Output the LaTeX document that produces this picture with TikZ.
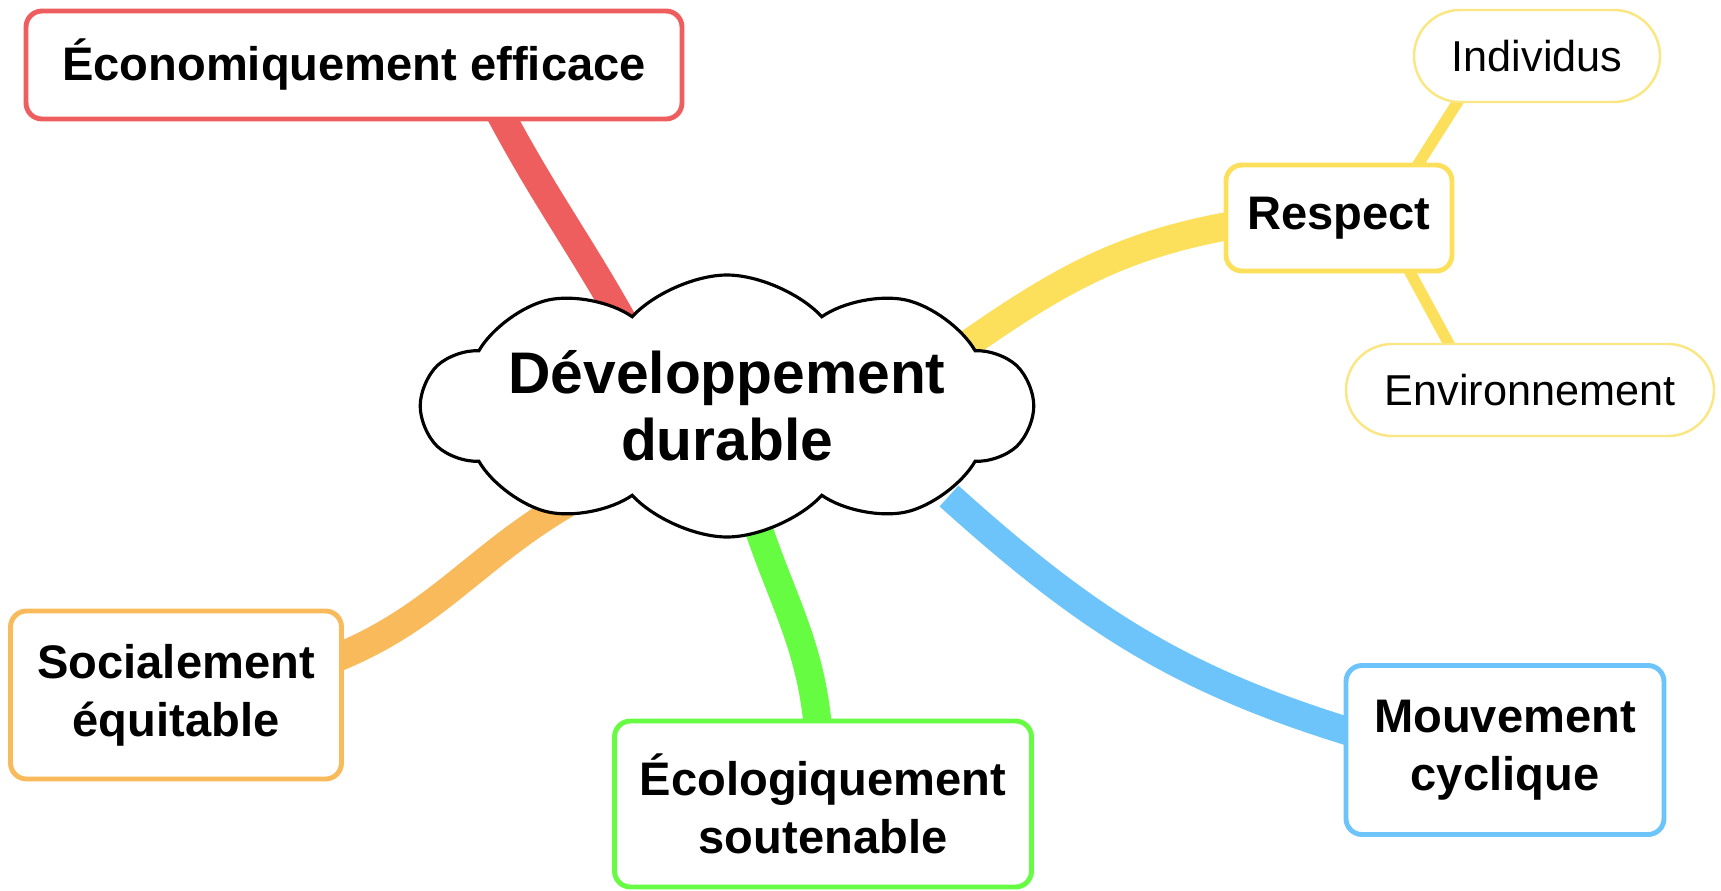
\documentclass[tikz,border=0pt]{standalone}
\usepackage{fontspec}
\setmainfont{Liberation Sans}
\usetikzlibrary{shapes.symbols, backgrounds, calc}

\definecolor{redbranch}{RGB}{238,94,94}
\definecolor{yellowbranch}{RGB}{252,224,92}
\definecolor{orangebranch}{RGB}{248,186,90}
\definecolor{greenbranch}{RGB}{102,252,66}
\definecolor{bluebranch}{RGB}{108,196,250}
\definecolor{leafyellow}{RGB}{250,230,130}

\begin{document}
\begin{tikzpicture}[x=0.1mm, y=0.1mm,
		box/.style={draw, line width=1.4pt, rounded corners=1.6mm, fill=white, align=center, inner sep=0pt, font=\fontsize{13.4}{16.5}\selectfont\bfseries},
		leaf/.style={draw=leafyellow, line width=0.7pt, rounded corners=4.6mm, fill=white, inner sep=0pt, minimum height=9.2mm, font=\fontsize{12.3}{14}\selectfont},
		branch/.style={line width=8pt},
		twig/.style={line width=3.2pt, yellowbranch}]
	\useasboundingbox (0,0) rectangle (1721,890);
	\node[cloud, cloud puffs=10, cloud puff arc=95, draw, line width=0.9pt, fill=white, minimum width=56.3mm, minimum height=26.2mm, cloud ignores aspect, inner sep=0pt, align=center, font=\fontsize{16.7}{19}\selectfont\bfseries] (dev) at (727,484) {Développement\\durable};
	\node[box, draw=redbranch, minimum width=65.6mm, minimum height=10.8mm] (eco) at (354,825) {Économiquement efficace};
	\node[box, draw=yellowbranch, minimum width=22.6mm, minimum height=10.6mm] (respect) at (1339,672) {Respect};
	\node[leaf, minimum width=24.6mm] (indiv) at (1537,834) {Individus};
	\node[leaf, minimum width=36.8mm] (env) at (1530,500) {Environnement};
	\node[box, draw=orangebranch, minimum width=33.1mm, minimum height=16.8mm] (soc) at (176,195) {Socialement\\équitable};
	\node[box, draw=greenbranch, minimum width=41.7mm, minimum height=16.6mm] (ecolo) at (823,86) {Écologiquement\\soutenable};
	\node[box, draw=bluebranch, minimum width=31.8mm, minimum height=16.9mm] (mouv) at (1505,140) {Mouvement\\cyclique};
	\begin{scope}[on background layer]
		\draw[branch, redbranch] ($(eco.south)+(145,10)$) to[out=-62, in=119] ($(dev.center)+(-98,74)$);
		\draw[branch, yellowbranch] ($(dev.center)+(228,53)$) to[out=35, in=190] ($(respect.west)+(10,-7)$);
		\draw[twig] ($(respect.north)+(77,-5)$) -- ($(indiv.south)+(-77,5)$);
		\draw[twig] ($(respect.south)+(69,5)$) -- ($(env.north)+(-79,-5)$);
		\draw[branch, orangebranch] ($(soc.east)+(-10,36)$) to[out=22, in=210] ($(dev.center)+(-156,-95)$);
		\draw[branch, greenbranch] ($(dev.center)+(23,-95)$) to[out=-74, in=95] ($(ecolo.north)+(-5,-10)$);
		\draw[branch, bluebranch] ($(dev.center)+(222,-90)$) to[out=-42, in=163] ($(mouv.west)+(10,17)$);
	\end{scope}
\end{tikzpicture}
\end{document}
